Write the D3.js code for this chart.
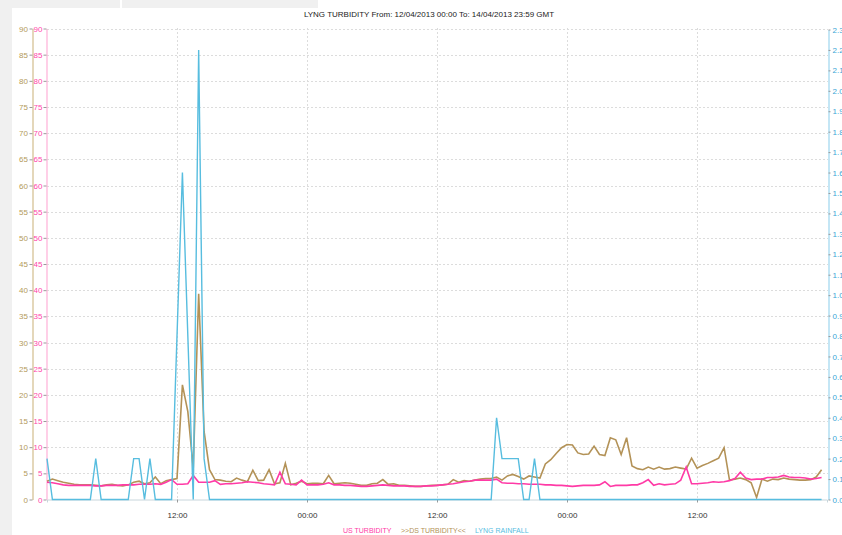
<!DOCTYPE html>
<html>
<head>
<meta charset="utf-8">
<script src="https://cdn.jsdelivr.net/npm/d3@7"></script>
<style>
body { margin: 0; background: #f0f0f0; }
svg text { font-family: "Liberation Sans", Arial, sans-serif; }
</style>
</head>
<body>
<div id="chart"></div>
<script>
// chart data, one reading every 30 minutes from 12/04/2013 00:00 GMT
var title = "LYNG TURBIDITY From: 12/04/2013 00:00 To: 14/04/2013 23:59 GMT";
var startTime = new Date(Date.UTC(2013, 3, 12, 0, 0));
var endTime = new Date(Date.UTC(2013, 3, 15, 0, 0));

var usTurbidity = [
    3.3, 3.2, 3.0, 2.8, 2.7, 2.7, 2.7, 2.7, 2.7, 2.6, 2.6, 2.7,
    2.7, 2.7, 2.8, 2.8, 2.8, 2.9, 2.9, 2.9, 3.0, 2.9, 3.3, 3.8,
    2.9, 2.9, 3.0, 4.6, 3.3, 3.3, 3.3, 3.6, 2.9, 3.0, 3.0, 3.1,
    3.2, 3.4, 3.3, 3.2, 3.0, 2.9, 2.8, 5.2, 3.0, 2.9, 2.8, 3.7,
    2.8, 2.8, 2.8, 2.9, 3.2, 2.8, 2.8, 2.7, 2.7, 2.6, 2.5, 2.5,
    2.6, 2.7, 2.8, 2.7, 2.6, 2.6, 2.6, 2.5, 2.5, 2.5, 2.6, 2.6,
    2.7, 2.8, 2.9, 3.0, 3.2, 3.4, 3.5, 3.7, 3.7, 3.7, 3.7, 3.9,
    3.2, 3.1, 3.1, 3.0, 3.0, 2.9, 2.9, 2.9, 2.8, 2.8, 2.7, 2.7,
    2.6, 2.5, 2.6, 2.7, 2.7, 2.7, 2.8, 3.4, 2.5, 2.7, 2.7, 2.7,
    2.8, 2.8, 3.2, 3.8, 2.7, 3.0, 2.8, 2.9, 3.0, 3.7, 6.2, 3.0,
    3.0, 3.1, 3.2, 3.4, 3.3, 3.4, 3.6, 4.0, 5.2, 4.1, 3.8, 3.9,
    3.9, 4.2, 4.2, 4.3, 4.6, 4.3, 4.2, 4.2, 4.1, 3.9, 4.0, 4.2
];

var dsTurbidity = [
    3.5, 3.9, 3.6, 3.3, 3.1, 2.9, 2.8, 2.8, 2.8, 2.7, 2.6, 2.8,
    2.9, 2.7, 2.6, 2.8, 3.3, 3.5, 3.0, 3.2, 4.3, 3.0, 3.6, 3.8,
    4.0, 21.9, 16.8, 6.0, 39.3, 13.0, 5.7, 3.8, 3.7, 3.5, 3.4, 4.1,
    3.7, 3.4, 5.6, 3.6, 3.7, 5.7, 3.0, 3.2, 6.9, 2.8, 3.1, 3.5,
    3.0, 3.1, 3.1, 3.0, 4.6, 3.0, 3.1, 3.2, 3.1, 2.9, 2.7, 2.7,
    3.0, 3.1, 3.8, 2.9, 3.0, 2.7, 2.7, 2.6, 2.5, 2.5, 2.6, 2.7,
    2.7, 2.8, 2.9, 3.8, 3.3, 3.6, 3.5, 3.7, 3.9, 4.0, 4.0, 4.3,
    3.7, 4.5, 4.8, 4.4, 3.9, 4.5, 4.3, 4.1, 6.8, 7.6, 8.8, 9.9,
    10.5, 10.4, 8.9, 8.6, 8.7, 10.2, 8.6, 8.4, 11.8, 11.4, 8.6, 11.8,
    6.4, 5.9, 5.7, 6.2, 5.8, 6.2, 5.8, 5.9, 6.2, 6.0, 5.8, 7.9,
    6.0, 6.5, 6.9, 7.4, 7.9, 9.9, 3.7, 3.9, 4.1, 3.8, 3.2, 0.4,
    3.9, 3.5, 3.9, 3.8, 4.1, 3.9, 3.8, 3.7, 3.7, 3.8, 4.3, 5.7
];

var rainfall = [
    0.2, 0, 0, 0, 0, 0, 0, 0, 0, 0.2, 0, 0,
    0, 0, 0, 0, 0.2, 0.2, 0, 0.2, 0, 0, 0, 0,
    0.8, 1.6, 0.8, 0, 2.2, 0.2, 0, 0, 0, 0, 0, 0,
    0, 0, 0, 0, 0, 0, 0, 0, 0, 0, 0, 0,
    0, 0, 0, 0, 0, 0, 0, 0, 0, 0, 0, 0,
    0, 0, 0, 0, 0, 0, 0, 0, 0, 0, 0, 0,
    0, 0, 0, 0, 0, 0, 0, 0, 0, 0, 0, 0.4,
    0.2, 0.2, 0.2, 0.2, 0, 0, 0.2, 0, 0, 0, 0, 0,
    0, 0, 0, 0, 0, 0, 0, 0, 0, 0, 0, 0,
    0, 0, 0, 0, 0, 0, 0, 0, 0, 0, 0, 0,
    0, 0, 0, 0, 0, 0, 0, 0, 0, 0, 0, 0,
    0, 0, 0, 0, 0, 0, 0, 0, 0, 0, 0, 0
];

var turbidityTicks = [0, 5, 10, 15, 20, 25, 30, 35, 40, 45, 50, 55, 60, 65, 70, 75, 80, 85, 90];
var rainTicks = [0, 0.1, 0.2, 0.3, 0.4, 0.5, 0.6, 0.7, 0.8, 0.9, 1, 1.1, 1.2, 1.3, 1.4, 1.5,
                 1.6, 1.7, 1.8, 1.9, 2, 2.1, 2.2, 2.3];
var timeTicks = [
    new Date(Date.UTC(2013, 3, 12, 12)), new Date(Date.UTC(2013, 3, 13, 0)),
    new Date(Date.UTC(2013, 3, 13, 12)), new Date(Date.UTC(2013, 3, 14, 0)),
    new Date(Date.UTC(2013, 3, 14, 12))
];
var legendItems = ["US TURBIDITY", ">>DS TURBIDITY<<", "LYNG RAINFALL"];

var width = 842;
var height = 535;
var pinkColor = "#ff3aa6";
var brownColor = "#b39257";
var blueColor = "#57bddf";

var times = d3.utcMinute.every(30).range(startTime, endTime);

var x = d3.scaleUtc().domain([startTime, endTime]).range([47, 827]);
var yLeft = d3.scaleLinear().domain([0, 90]).range([499.5, 28.5]);
var yRight = d3.scaleLinear().domain([0, 2.3]).range([499.5, 29.5]);

var svg = d3.select("#chart").append("svg")
    .attr("width", width)
    .attr("height", height);

// white panel, with the grey strip left along the top-left
svg.append("rect")
    .attr("x", 12).attr("y", 8)
    .attr("width", width - 12).attr("height", height - 8)
    .attr("fill", "#fff");
svg.append("rect")
    .attr("x", 318).attr("y", 0)
    .attr("width", width - 318).attr("height", 8)
    .attr("fill", "#fff");
svg.append("rect")
    .attr("x", 120).attr("y", 0)
    .attr("width", 2).attr("height", 8)
    .attr("fill", "#fff");

// grid
svg.append("g").selectAll("line")
    .data(turbidityTicks.slice(1))
    .join("line")
    .attr("x1", 47).attr("x2", 828)
    .attr("y1", d => Math.round(yLeft(d)) + 0.5)
    .attr("y2", d => Math.round(yLeft(d)) + 0.5)
    .attr("stroke", "#dcdcdc")
    .attr("stroke-dasharray", "2,2");

svg.append("g").selectAll("line")
    .data(timeTicks)
    .join("line")
    .attr("x1", d => Math.round(x(d)) + 0.5)
    .attr("x2", d => Math.round(x(d)) + 0.5)
    .attr("y1", 28).attr("y2", 499.5)
    .attr("stroke", "#dcdcdc")
    .attr("stroke-dasharray", "2,2");

// axes
function styleAxis(g, lineColor, textColor) {
    g.select(".domain").attr("stroke", lineColor).attr("stroke-width", 1.2);
    g.selectAll(".tick line").attr("stroke", "#999");
    g.selectAll(".tick text").attr("fill", textColor).style("font-size", "8px");
}

svg.append("g")
    .attr("transform", "translate(32.5,0)")
    .call(d3.axisLeft(yLeft).tickValues(turbidityTicks).tickSize(3).tickSizeOuter(0).tickPadding(1.5))
    .call(styleAxis, "#d2bd8c", "#b39a5a");

svg.append("g")
    .attr("transform", "translate(46.5,0)")
    .call(d3.axisLeft(yLeft).tickValues(turbidityTicks).tickSize(3).tickSizeOuter(0).tickPadding(1))
    .call(styleAxis, "#ffb0d8", "#ff45aa");

svg.append("g")
    .attr("transform", "translate(828.5,0)")
    .call(d3.axisRight(yRight).tickValues(rainTicks).tickSize(2).tickSizeOuter(0).tickPadding(2))
    .call(styleAxis, "#9dd6ee", "#3aa6d6");

svg.append("g")
    .attr("transform", "translate(0,499.5)")
    .call(d3.axisBottom(x).tickValues(timeTicks).tickFormat(d3.utcFormat("%H:%M")).tickSize(3).tickPadding(10))
    .call(g => g.select(".domain").attr("stroke", "#c8d6dc"))
    .call(g => g.selectAll(".tick line").attr("stroke", "#999"))
    .call(g => g.selectAll(".tick text").attr("fill", "#333").style("font-size", "8px"));

// series
var lineLeft = d3.line()
    .x((d, i) => x(times[i]))
    .y(d => yLeft(d));
var lineRight = d3.line()
    .x((d, i) => x(times[i]))
    .y(d => yRight(d));

svg.append("path")
    .datum(dsTurbidity)
    .attr("fill", "none")
    .attr("stroke", brownColor)
    .attr("stroke-width", 1.6)
    .attr("d", lineLeft);

svg.append("path")
    .datum(usTurbidity)
    .attr("fill", "none")
    .attr("stroke", pinkColor)
    .attr("stroke-width", 1.6)
    .attr("d", lineLeft);

svg.append("path")
    .datum(rainfall)
    .attr("fill", "none")
    .attr("stroke", blueColor)
    .attr("stroke-width", 1.4)
    .attr("d", lineRight);

// title
svg.append("text")
    .attr("x", 429)
    .attr("y", 17)
    .attr("text-anchor", "middle")
    .attr("fill", "#222")
    .style("font-size", "8px")
    .text(title);

// legend
var legendColors = [pinkColor, brownColor, blueColor];
var legendX = [343, 401, 475];
svg.append("g").selectAll("text")
    .data(legendItems)
    .join("text")
    .attr("x", (d, i) => legendX[i])
    .attr("y", 533)
    .attr("fill", (d, i) => legendColors[i])
    .style("font-size", "7px")
    .text(d => d);
</script>
</body>
</html>
